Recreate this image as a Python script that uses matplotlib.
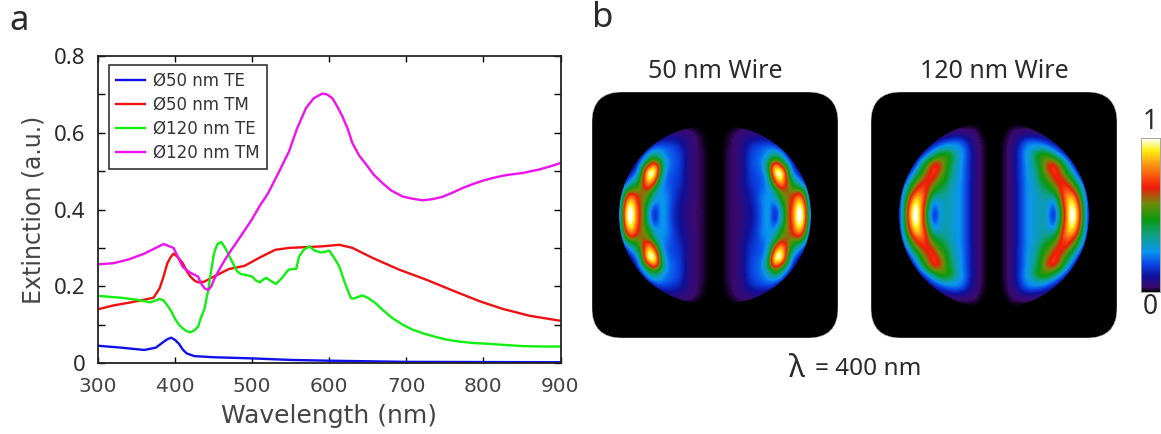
import numpy as np
import matplotlib
matplotlib.use("Agg")
import matplotlib.pyplot as plt
from matplotlib.colors import LinearSegmentedColormap
from matplotlib.patches import FancyBboxPatch, Wedge
from matplotlib.path import Path

W, H = 1161, 434

wl_te50 = [300, 330, 360, 375, 385, 390, 395, 400, 405, 410, 415, 425, 450, 500, 550, 600, 700, 900]
te50 = [.045, .040, .034, .040, .055, .062, .066, .060, .050, .035, .025, .018, .015, .012, .008, .006, .003, .002]

wl_tm50 = [300, 320, 340, 360, 372, 380, 385, 390, 394, 398, 404, 410, 415, 420, 425, 430, 438, 450, 470, 490, 510,
           530, 548, 570, 591, 613, 630, 656, 691, 726, 760, 795, 825, 860, 900]
tm50 = [.140, .150, .157, .165, .170, .195, .225, .260, .275, .285, .275, .260, .240, .225, .215, .210, .212, .225,
        .245, .253, .275, .295, .300, .302, .304, .308, .300, .274, .243, .217, .189, .161, .141, .123, .110]

wl_te120 = [300, 330, 350, 368, 380, 385, 390, 395, 400, 405, 410, 415, 420, 425, 430, 433, 438, 440, 443, 446, 450,
            452, 455, 460, 465, 470, 475, 480, 485, 490, 495, 500, 505, 510, 514, 518, 525, 531, 538, 547, 552, 557,
            561, 567, 574, 581, 589, 595, 600, 606, 613, 620, 628, 632, 637, 643, 650, 660, 670, 682, 695, 708, 722,
            738, 752, 768, 787, 807, 828, 851, 875, 900]
te120 = [.175, .170, .165, .158, .167, .163, .150, .135, .115, .100, .090, .083, .080, .085, .095, .115, .140, .160,
         .190, .230, .280, .295, .310, .315, .300, .280, .260, .240, .232, .230, .228, .225, .215, .210, .217, .222,
         .213, .206, .220, .243, .245, .245, .278, .295, .304, .293, .288, .290, .293, .275, .252, .210, .169, .168,
         .172, .176, .170, .156, .137, .117, .100, .087, .077, .068, .061, .056, .052, .050, .047, .044, .043, .043]

wl_tm120 = [300, 320, 340, 360, 375, 385, 398, 410, 420, 430, 433, 438, 443, 447, 450, 455, 462, 470, 485, 499, 510,
            520, 534, 548, 558, 570, 580, 591, 597, 604, 610, 617, 624, 630, 639, 648, 658, 669, 680, 695, 708, 721,
            734, 747, 760, 773, 786, 799, 812, 825, 838, 851, 862, 872, 886, 900]
tm120 = [.257, .260, .270, .285, .300, .310, .300, .250, .235, .225, .210, .195, .190, .200, .215, .235, .260, .286,
         .330, .372, .410, .440, .495, .552, .610, .665, .690, .702, .700, .690, .670, .643, .610, .573, .540, .517,
         .490, .469, .450, .434, .428, .424, .427, .433, .444, .456, .466, .475, .482, .488, .492, .495, .500, .504,
         .512, .521]

series_labels = ["Ø50 nm TE", "Ø50 nm TM", "Ø120 nm TE", "Ø120 nm TM"]
series_colors = ["#1010e8", "#f01010", "#10f010", "#f010f0"]

# quarter of each field map: first row is the panel centre line, first column the centre gap
wire50 = [
    [0, 0, .02, .03, .04, .07, .10, .15, .24, .30, .08, .30, .58, .76, 1.12, .88, .08],
    [0, 0, .02, .03, .04, .07, .10, .15, .24, .30, .10, .32, .58, .75, 1.10, .85, .08],
    [0, 0, .02, .03, .05, .08, .11, .16, .25, .27, .20, .42, .58, .70, 1.02, .75, .08],
    [0, 0, .02, .03, .05, .08, .12, .17, .25, .27, .30, .50, .60, .66, .88, .58, .08],
    [0, 0, .02, .03, .05, .09, .13, .17, .23, .25, .35, .60, .62, .55, .62, .42, .05],
    [0, 0, .02, .03, .05, .10, .15, .18, .20, .28, .58, .85, .65, .45, .38, .22, .03],
    [0, 0, .02, .03, .05, .10, .16, .18, .20, .33, .80, 1.02, .62, .36, .24, .08, 0],
    [0, 0, .02, .03, .05, .10, .17, .19, .21, .42, 1.0, 1.12, .55, .25, .10, .03, 0],
    [0, 0, .02, .03, .05, .10, .18, .20, .24, .48, .98, .75, .48, .15, .05, 0, 0],
    [0, 0, .02, .03, .05, .10, .18, .20, .25, .42, .62, .48, .28, .08, 0, 0, 0],
    [0, 0, .02, .03, .05, .10, .18, .20, .22, .30, .40, .32, .14, .03, 0, 0, 0],
    [0, 0, .02, .03, .05, .09, .16, .19, .21, .24, .25, .15, .05, 0, 0, 0, 0],
    [0, 0, .01, .03, .05, .08, .12, .14, .16, .16, .11, .04, .02, 0, 0, 0, 0],
    [0, 0, .01, .03, .05, .06, .08, .09, .08, .06, .03, .01, 0, 0, 0, 0, 0],
    [0, 0, 0, .01, .03, .04, .04, .04, .03, .01, 0, 0, 0, 0, 0, 0, 0],
    [0, 0, 0, 0, 0, 0, 0, 0, 0, 0, 0, 0, 0, 0, 0, 0, 0],
]
wire120 = [
    [0, 0, .02, .05, .12, .22, .27, .30, .33, .28, .08, .40, .76, 1.12, .84, .40, .05],
    [0, 0, .02, .05, .12, .22, .27, .30, .33, .30, .12, .45, .76, 1.10, .82, .40, .05],
    [0, 0, .02, .05, .12, .22, .27, .30, .33, .30, .20, .50, .80, 1.02, .74, .38, .05],
    [0, 0, .02, .05, .12, .22, .27, .30, .34, .34, .33, .58, .84, .90, .64, .32, .05],
    [0, 0, .02, .05, .12, .22, .27, .30, .36, .42, .47, .65, .78, .72, .52, .26, .04],
    [0, 0, .02, .05, .12, .22, .27, .32, .42, .48, .55, .70, .72, .60, .42, .18, .03],
    [0, 0, .02, .05, .13, .22, .28, .33, .48, .52, .68, .73, .60, .48, .28, .08, 0],
    [0, 0, .02, .05, .13, .22, .30, .36, .50, .60, .74, .65, .50, .36, .14, .03, 0],
    [0, 0, .02, .05, .13, .22, .30, .38, .52, .68, .76, .58, .44, .22, .06, 0, 0],
    [0, 0, .02, .05, .13, .23, .30, .42, .52, .62, .60, .48, .30, .10, 0, 0, 0],
    [0, 0, .02, .05, .13, .25, .30, .47, .52, .50, .40, .26, .12, .03, 0, 0, 0],
    [0, 0, .02, .05, .12, .23, .28, .30, .36, .30, .22, .12, .04, 0, 0, 0, 0],
    [0, 0, .02, .05, .10, .19, .24, .24, .21, .16, .10, .04, .01, 0, 0, 0, 0],
    [0, 0, .01, .04, .06, .09, .11, .10, .08, .05, .02, .01, 0, 0, 0, 0, 0],
    [0, 0, 0, .03, .04, .04, .04, .03, .02, .01, 0, 0, 0, 0, 0, 0, 0],
    [0, 0, 0, 0, 0, 0, 0, 0, 0, 0, 0, 0, 0, 0, 0, 0, 0],
]

cmap_stops = [0, .03, .10, .18, .26, .36, .47, .575, .68, .83, .92, 1]
cmap_colors = ["#000000", "#3c0a6e", "#10109a", "#0a46e6", "#0a96f0", "#10a08c", "#0a9a10",
               "#6e8c0a", "#f01a0a", "#ff9614", "#ffee10", "#ffffff"]
field_cmap = LinearSegmentedColormap.from_list("field", list(zip(cmap_stops, cmap_colors)))


def px_axes(fig, x0, y0, x1, y1):
    # pixel box measured from top left of the picture
    return fig.add_axes([x0 / W, 1 - y1 / H, (x1 - x0) / W, (y1 - y0) / H])


def full_map(quarter):
    q = np.array(quarter)
    # rows go centre to top, columns go centre to left edge, flip for the rest
    left = q[:, ::-1]
    top = np.hstack([left, q[:, 1:]])
    return np.vstack([top[::-1], top[1:]])


fig = plt.figure(figsize=(W / 100, H / 100), dpi=100)
note_font = ["Noto Sans", "DejaVu Sans"]
text_col = "#2a2a2a"

ax = px_axes(fig, 98, 56, 560.5, 363)
for wl, vals, col, lab in zip([wl_te50, wl_tm50, wl_te120, wl_tm120], [te50, tm50, te120, tm120],
                              series_colors, series_labels):
    ax.plot(wl, vals, color=col, lw=1.7, label=lab)
ax.set_xlim(300, 900)
ax.set_ylim(0, 0.8)
ax.set_xticks(np.arange(300, 901, 100))
ax.set_yticks([0, 0.2, 0.4, 0.6, 0.8])
ax.set_yticklabels(["0", "0.2", "0.4", "0.6", "0.8"], family=note_font, fontsize=16, color=text_col)
ax.set_yticks(np.arange(0.1, 0.8, 0.2), minor=True)
ax.tick_params(axis="x", which="major", direction="in", top=True, length=4, width=1, labelsize=14.5,
               labelcolor="#444444", pad=10)
ax.tick_params(axis="y", which="both", direction="in", right=True, length=5, width=1, pad=9)
ax.set_xlabel("Wavelength (nm)", fontsize=18, color="#444444", labelpad=6)
ax.set_ylabel("Extinction (a.u.)", fontsize=17, color="#444444", labelpad=6)
for sp in ax.spines.values():
    sp.set_linewidth(1.3)
    sp.set_color("#222222")
leg = ax.legend(loc="upper left", bbox_to_anchor=(0.024, 0.97), fontsize=12, fancybox=False, framealpha=1,
                edgecolor="#333333", borderaxespad=0, labelspacing=0.36, handlelength=1.75, handletextpad=0.5,
                borderpad=0.4, labelcolor="#333333")
leg.get_frame().set_linewidth(1.2)

fig.text(9 / W, 1 - 21 / H, "a", family=note_font, fontsize=25, color=text_col, va="center")
fig.text(592 / W, 1 - 18 / H, "b", family=note_font, fontsize=25, color=text_col, va="center")

for quarter, x0, title, off, rad in [(wire50, 592, "50 nm Wire", 7, 89), (wire120, 871, "120 nm Wire", 2, 93)]:
    pan = px_axes(fig, x0, 92, x0 + 246, 338)
    pan.axis("off")
    box = FancyBboxPatch((-93, -93), 186, 186, boxstyle="round,pad=30,rounding_size=30",
                         fc="black", ec="#aaaaaa", lw=0.4)
    pan.add_patch(box)
    im = pan.imshow(full_map(quarter), cmap=field_cmap, vmin=0, vmax=1, interpolation="bicubic",
                    extent=(-99, 99, -93, 93), zorder=3)
    pan.set_xlim(-123, 123)
    pan.set_ylim(-123, 123)
    # the field stops sharply at the wire edge, one half disc each side
    half_l = Wedge((-off, 0), rad, 90, 270).get_path()
    half_r = Wedge((off, 0), rad, -90, 90).get_path()
    im.set_clip_path(Path.make_compound_path(half_l, half_r), pan.transData)
    fig.text((x0 + 123) / W, 1 - 72 / H, title, family=note_font, fontsize=18, color=text_col,
             ha="center", va="center")

cb = px_axes(fig, 1141, 138, 1160, 292)
cb.imshow(np.linspace(1, 0, 256)[:, None], cmap=field_cmap, vmin=0, vmax=1, aspect="auto")
cb.set_xticks([])
cb.set_yticks([])
for sp in cb.spines.values():
    sp.set_color("#999999")
    sp.set_linewidth(0.6)
fig.text(1150 / W, 1 - 122 / H, "1", family=note_font, fontsize=19, color=text_col, ha="center", va="center")
fig.text(1150 / W, 1 - 307 / H, "0", family=note_font, fontsize=19, color=text_col, ha="center", va="center")

fig.text(797 / W, 1 - 369 / H, "λ", family=note_font, fontsize=22, color=text_col, ha="center", va="center")
fig.text(815 / W, 1 - 369 / H, "= 400 nm", family=note_font, fontsize=17.5, color=text_col, ha="left", va="center")

fig.savefig("out.png", dpi=100)
